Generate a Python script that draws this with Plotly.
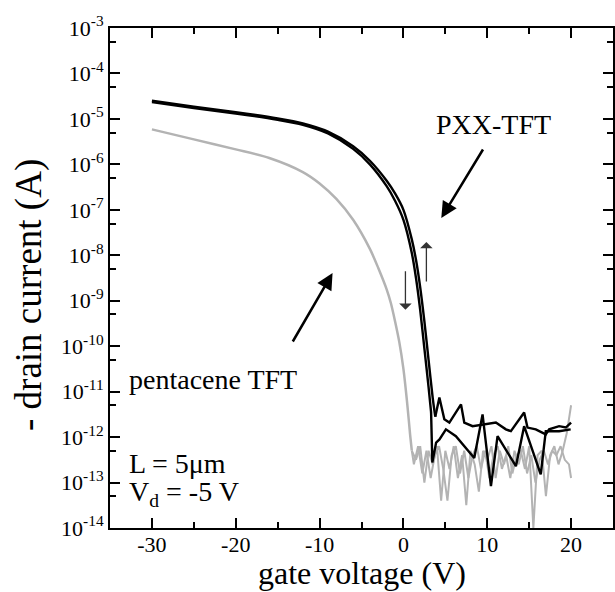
import plotly.graph_objects as go

# ---- data (log10 of -drain current, A) ----
# PXX-TFT, sweep A (smooth part, then noise floor)
pxx_a_v = [-30, -25, -20, -15, -12, -9, -6, -4, -2, -1, 0, 1, 1.5, 2, 2.5, 3, 3.3]
pxx_a_log = [-4.63, -4.76, -4.88, -5.02, -5.13, -5.32, -5.66, -6.0, -6.48, -6.8, -7.22, -7.95, -8.5, -9.2, -10.05, -10.9, -11.45]
pxx_a_noise_v = [3.3, 3.45, 3.9, 4.3, 5.07, 6.26, 8.45, 9.44, 10.44, 11.23, 13.42, 14.4, 16.38, 16.98, 18.57, 19.95]
pxx_a_noise_log = [-11.45, -12.56, -12.12, -12.05, -11.83, -11.98, -12.46, -11.5, -13.08, -11.98, -12.64, -11.76, -12.82, -11.87, -11.87, -11.83]

# PXX-TFT, sweep B
pxx_b_v = [-30, -25, -20, -15, -12, -9, -6, -4, -2, -1, 0, 1, 1.5, 2, 2.5, 3, 3.5, 3.8]
pxx_b_log = [-4.6, -4.73, -4.85, -4.99, -5.1, -5.28, -5.6, -5.92, -6.36, -6.64, -7.0, -7.65, -8.1, -8.7, -9.45, -10.3, -11.15, -11.55]
pxx_b_noise_v = [3.8, 4.29, 4.88, 5.48, 6.87, 7.26, 8.25, 9.44, 11.03, 12.22, 12.82, 14.4, 14.8, 15.79, 16.98, 17.38, 18.57, 19.37, 20.0]
pxx_b_noise_log = [-11.55, -11.13, -11.61, -11.68, -11.28, -11.68, -11.76, -11.72, -11.68, -11.83, -11.87, -11.46, -11.79, -11.83, -11.94, -11.83, -11.76, -11.79, -11.68]

# pentacene TFT (smooth part shared by both sweeps)
pen_v = [-30, -25, -20, -16, -12, -10, -8, -6, -4, -3, -2, -1.5, -1, -0.5, 0, 0.5, 0.8, 1.0]
pen_log = [-5.23, -5.45, -5.67, -5.86, -6.17, -6.42, -6.76, -7.22, -7.86, -8.28, -8.75, -9.05, -9.45, -9.9, -10.5, -11.35, -11.95, -12.3]

pen_n1_v = [1.0, 1.5, 2.0, 2.5, 3.0, 3.5, 4.0, 4.5, 5.0, 5.5, 6.0, 6.5, 7.0, 7.5, 8.0, 8.5, 9.0, 9.5, 10.0, 10.5, 11.0, 11.5, 12.0, 12.5, 13.0, 13.5, 14.0, 14.5, 15.0, 15.5, 16.0, 16.5, 17.0, 17.5, 18.0, 18.5, 19.0, 19.5, 20.0]
pen_n1_log = [-12.3, -12.5, -12.2, -13.0, -12.3, -12.6, -12.2, -13.4, -12.3, -12.7, -12.2, -12.9, -12.4, -13.5, -12.3, -12.6, -13.2, -12.3, -12.5, -12.2, -12.9, -12.3, -12.6, -12.2, -12.8, -12.4, -12.3, -12.7, -12.2, -14.0, -12.4, -12.3, -13.3, -12.4, -12.2, -12.6, -12.3, -11.9, -11.3]

pen_n2_v = [1.0, 1.25, 1.75, 2.25, 2.75, 3.25, 3.75, 4.25, 4.75, 5.25, 5.75, 6.25, 6.75, 7.25, 7.75, 8.25, 8.75, 9.25, 9.75, 10.25, 10.75, 11.25, 11.75, 12.25, 12.75, 13.25, 13.75, 14.25, 14.75, 15.25, 15.75, 16.25, 16.75, 17.25, 17.75, 18.25, 18.75, 19.25, 19.75, 20.0]
pen_n2_log = [-12.3, -12.6, -12.2, -12.8, -12.3, -12.9, -12.4, -12.2, -12.7, -13.4, -12.4, -12.2, -12.8, -12.3, -12.9, -12.4, -12.2, -12.7, -12.3, -12.9, -12.4, -12.2, -12.7, -12.4, -12.9, -12.3, -12.6, -12.2, -12.8, -12.4, -13.0, -12.5, -12.3, -12.6, -12.3, -12.4, -12.2, -12.5, -12.6, -12.9]

x_ticks = [-30, -20, -10, 0, 10, 20]
x_minor = [-35, -25, -15, -5, 5, 15, 25]
y_exps = list(range(-14, -2))


def tolin(a):
    return [10 ** v for v in a]


FONT = "Liberation Serif"
GRAY = "#b3b3b3"

fig = go.Figure()
for v, l in [(pen_n1_v, pen_n1_log), (pen_n2_v, pen_n2_log)]:
    fig.add_trace(go.Scatter(x=v, y=tolin(l), mode="lines",
                             line=dict(color=GRAY, width=2), showlegend=False))
fig.add_trace(go.Scatter(x=pen_v, y=tolin(pen_log), mode="lines",
                         line=dict(color=GRAY, width=2.5, shape="spline", smoothing=0.8),
                         showlegend=False))
for v, l in [(pxx_a_v, pxx_a_log), (pxx_b_v, pxx_b_log)]:
    fig.add_trace(go.Scatter(x=v, y=tolin(l), mode="lines",
                             line=dict(color="black", width=2.4, shape="spline", smoothing=0.8),
                             showlegend=False))
for v, l in [(pxx_a_noise_v, pxx_a_noise_log), (pxx_b_noise_v, pxx_b_noise_log)]:
    fig.add_trace(go.Scatter(x=v, y=tolin(l), mode="lines",
                             line=dict(color="black", width=2.4), showlegend=False))

axis_common = dict(showline=True, linecolor="black", linewidth=2, mirror="allticks",
                   ticks="inside", tickcolor="black", tickwidth=2, ticklen=10,
                   showgrid=False, zeroline=False, automargin=False,
                   tickfont=dict(family=FONT, size=22, color="black"))

fig.update_xaxes(range=[-35, 25], tickmode="array", tickvals=x_ticks,
                 ticktext=[str(t) for t in x_ticks], ticklabelstandoff=-4,
                 minor=dict(ticks="inside", tickmode="array", tickvals=x_minor,
                            ticklen=6, tickwidth=2, tickcolor="black"),
                 **axis_common)
fig.update_yaxes(type="log", range=[-14, -3], tickmode="array",
                 tickvals=[10 ** e for e in y_exps],
                 ticktext=["10<sup>%d</sup>" % e for e in y_exps],
                 minor=dict(ticks="inside", tickmode="array",
                            tickvals=[5 * 10 ** e for e in range(-14, -3)],
                            ticklen=6, tickwidth=2, tickcolor="black"),
                 **axis_common)

# axis titles as free text
fig.add_annotation(text="- drain current (A)", x=-0.161, y=0.466, xref="paper", yref="paper",
                   textangle=-90, showarrow=False, xanchor="center", yanchor="middle",
                   font=dict(family=FONT, size=37, color="black"))
fig.add_annotation(text="gate voltage (V)", x=0.5, y=-0.128, xref="paper", yref="paper",
                   showarrow=False, xanchor="center", yanchor="bottom", borderpad=0,
                   font=dict(family=FONT, size=32, color="black"))


def ann(text, x, y, size=28, **kw):
    fig.add_annotation(text=text, x=x, y=y, xref="x", yref="y", showarrow=False,
                       font=dict(family=FONT, size=size, color="black"), **kw)


ann("PXX-TFT", 10.8, -5.13, xanchor="center", yanchor="middle")
ann("pentacene TFT", -33.0, -10.74, xanchor="left", yanchor="middle")
ann("L = 5\u03bcm", -33.0, -12.57, xanchor="left", yanchor="middle")
ann("V<sub>d</sub> = -5 V", -33.0, -13.23, xanchor="left", yanchor="middle")


def arrow(x0, y0, x1, y1, width, size, color="black", head=2):
    fig.add_annotation(x=x1, y=y1, ax=x0, ay=y0, xref="x", yref="y", axref="x", ayref="y",
                       text="", showarrow=True, arrowhead=head, arrowsize=size,
                       arrowwidth=width, arrowcolor=color)


arrow(9.6, -5.64, 4.52, -7.18, 2.5, 1.3)
arrow(-13.3, -9.93, -8.45, -8.39, 2.5, 1.3)
arrow(0.24, -8.32, 0.24, -9.2, 1.3, 1.6, "#333333", 1)
arrow(2.74, -8.61, 2.74, -7.71, 1.3, 1.6, "#333333", 1)

fig.update_layout(width=615, height=592, margin=dict(l=110, r=2, t=28, b=64),
                  paper_bgcolor="white", plot_bgcolor="white",
                  font=dict(family=FONT, color="black"))
fig.write_html("out.html")
